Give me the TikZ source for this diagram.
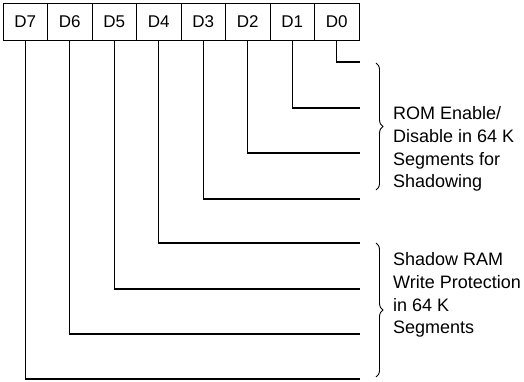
\documentclass[tikz,border=0pt]{standalone}
\usepackage{fontspec}
\setmainfont{Liberation Sans}
\usetikzlibrary{decorations.pathreplacing}
\begin{document}
\begin{tikzpicture}[x=1pt,y=-1pt,
  bitbox/.style={draw,line width=1.1pt,minimum width=44.5pt,minimum height=37pt,inner sep=0pt,anchor=north west,font=\fontsize{17}{20}\selectfont},
  wire/.style={line width=1.2pt},
  brc/.style={decorate,decoration={brace,amplitude=7pt},line width=0.9pt},
  lbl/.style={anchor=west,align=left,inner sep=0pt,font=\fontsize{18}{22.8}\selectfont}]
\useasboundingbox (0,0) rectangle (524,382);
\foreach \i/\n in {0/7,1/6,2/5,3/4,4/3,5/2,6/1,7/0}{
  \node[bitbox] (d\n) at ({2.5+44.5*\i},3) {D\n};
}
\coordinate (e0) at (360,62);
\coordinate (e1) at (360,108);
\coordinate (e2) at (360,153);
\coordinate (e3) at (360,199);
\coordinate (e4) at (360,243);
\coordinate (e5) at (360,289);
\coordinate (e6) at (360,334);
\coordinate (e7) at (360,379);
\foreach \n in {0,...,7}{
  \draw[wire] (d\n.south) |- (e\n);
}
\coordinate (b1s) at (376,63);
\coordinate (b1e) at (376,190);
\coordinate (b2s) at (376,243);
\coordinate (b2e) at (376,377);
\draw[brc] (b1s) -- (b1e);
\draw[brc] (b2s) -- (b2e);
\node[lbl] (t1) at (393,149) {ROM Enable/\\Disable in 64 K\\Segments for\\Shadowing};
\node[lbl] (t2) at (393,295) {Shadow RAM\\Write Protection\\in 64 K\\Segments};
\end{tikzpicture}
\end{document}
